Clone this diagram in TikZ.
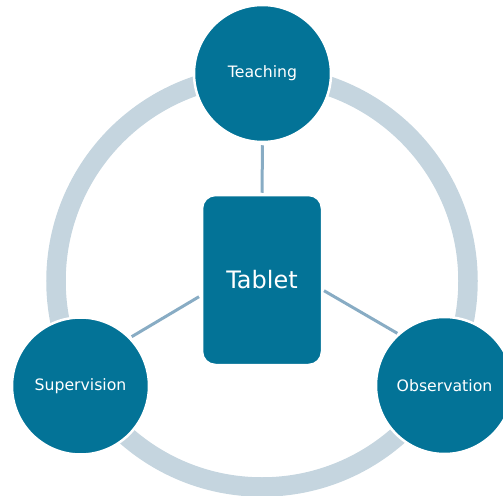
\documentclass[tikz,border=0pt]{standalone}
\usepackage{fontspec}
\setmainfont{DejaVu Sans}
\usetikzlibrary{calc}
\definecolor{teal}{RGB}{3,115,151}
\definecolor{ringgray}{RGB}{197,213,223}
\definecolor{linkblue}{RGB}{136,172,196}
\tikzset{
  hub/.style={circle, fill=teal, draw=white, line width=2.5pt,
    minimum size=137pt, inner sep=0pt, text=white, font=\fontsize{15.7}{18}\selectfont},
  tabletbox/.style={rectangle, rounded corners=13pt, fill=teal, draw=white, line width=1.5pt,
    minimum width=119pt, minimum height=169pt, inner sep=0pt, text=white,
    font=\fontsize{24}{28}\selectfont},
  ring/.style={draw=ringgray, line width=19.5pt},
  link/.style={draw=linkblue, line width=3pt}
}
\begin{document}
\begin{tikzpicture}[x=1pt,y=-1pt]
  \useasboundingbox (0,0) rectangle (503,495);
  \clip (0,0) rectangle (503,495);
  % outer ring linking the three activities
  \draw[ring] (262,281) circle [radius=206pt];
  % activities and the central device
  \node[hub] (teach) at (262.5,73.5) {Teaching};
  \node[hub] (sup) at (80.5,386) {Supervision};
  \node[hub] (obs) at (444.5,385.5) {Observation};
  \node[tabletbox] (tab) at (262,280) {Tablet};
  % connector end points
  \coordinate (supE) at (131.7,336.7);
  \coordinate (tabW) at (199,296.7);
  \coordinate (tabE) at (324,290.7);
  \coordinate (obsW) at (397.3,333.3);
  % connectors
  \draw[link, shorten <=2pt, shorten >=2pt] (teach.south) -- (tab.north);
  \draw[link] (supE) -- (tabW);
  \draw[link] (tabE) -- (obsW);
\end{tikzpicture}
\end{document}
